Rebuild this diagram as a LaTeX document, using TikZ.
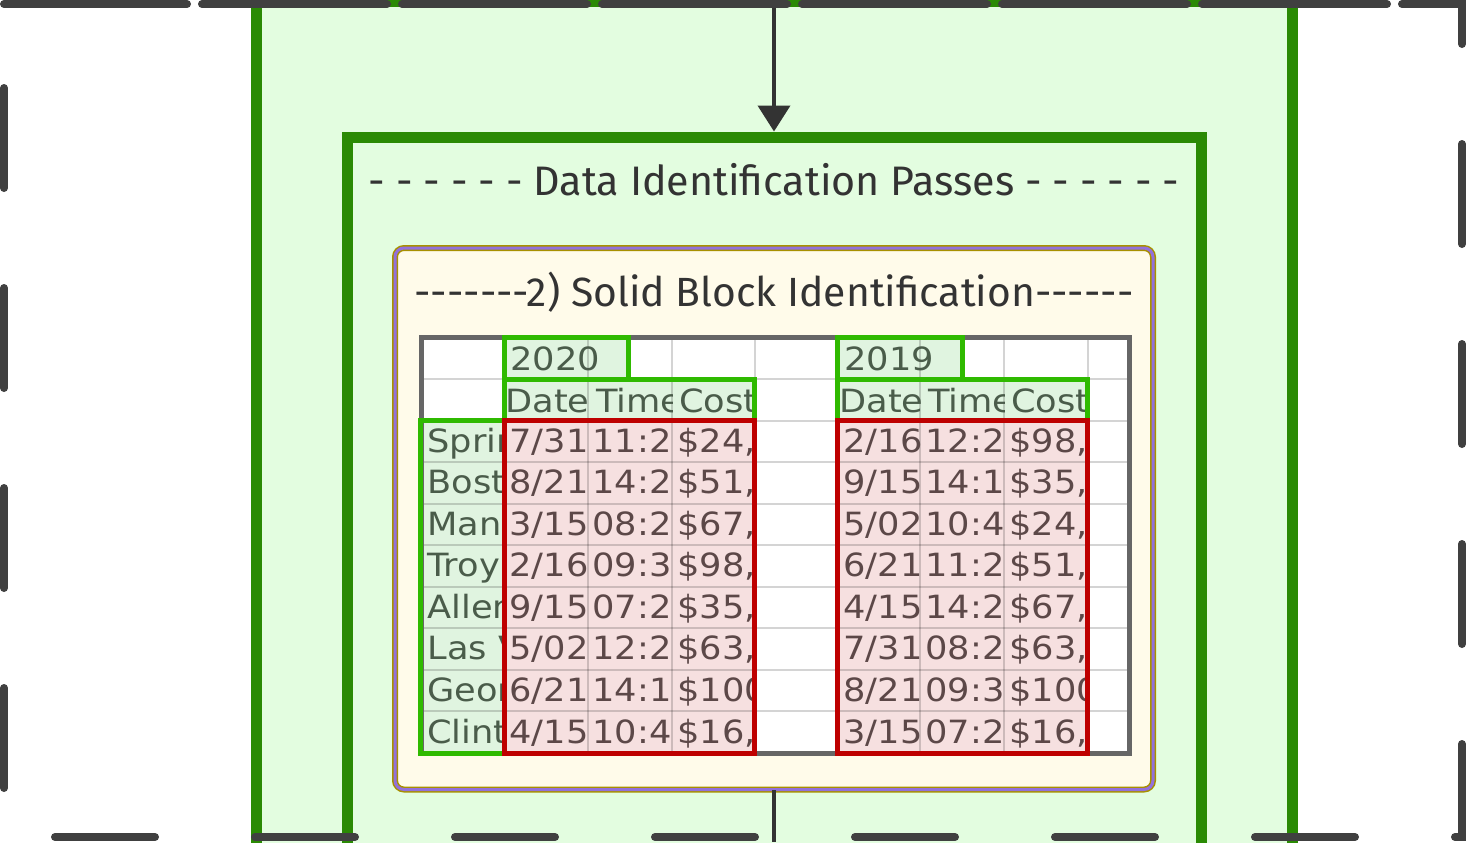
\documentclass[tikz,border=0pt]{standalone}
\usepackage{fontspec}
\setmainfont{DejaVu Sans}
\newfontfamily\labelfont{Fira Sans}
\newfontfamily\sheetfont[FakeStretch=1.1]{DejaVu Sans}
\usetikzlibrary{positioning,arrows.meta}

\definecolor{edgegray}{HTML}{404040}
\definecolor{linkgray}{HTML}{333333}
\definecolor{clusterfill}{HTML}{E3FDE0}
\definecolor{clusterline}{HTML}{2A8A04}
\definecolor{boxfill}{HTML}{FFFBEA}
\definecolor{boxgold}{HTML}{A89000}
\definecolor{boxpurple}{HTML}{9370DB}
\definecolor{sheetframe}{HTML}{666666}
\definecolor{keyline}{HTML}{2FBA00}
\definecolor{keyfill}{HTML}{E0F4E0}
\definecolor{keytext}{HTML}{4A5C4A}
\definecolor{blockline}{HTML}{BE0000}
\definecolor{blockfill}{HTML}{F6E0E0}
\definecolor{blocktext}{HTML}{5C4848}

% one clipped spreadsheet cell: [pad] name, left, right, row, colour, text
\newcommand\sheetcell[7][6]{%
	\begin{scope}
		\clip ({#3},{337.5+41.55*(#5)}) rectangle ({#4},{337.5+41.55*(#5+1)});
		\node[celltext,text=#6] (#2) at ({#3+#1},{337.5+41.55*(#5+1)-8.5-1.5*(#5>1)}) {#7};
	\end{scope}}

\begin{document}
\begin{tikzpicture}[x=0.5pt,y=-0.5pt,
				cluster/.style={draw=clusterline,fill=clusterfill,line width=5.5pt,inner sep=0pt},
				outline/.style={draw=edgegray,line width=4pt,line cap=round,dash pattern=on 50pt off 50pt},
				link/.style={draw=linkgray,line width=2pt},
				title/.style={text=linkgray,font=\labelfont\fontsize{20.6}{24}\selectfont,inner sep=0pt,anchor=base},
				solidbox/.style={draw=boxgold,double=boxpurple,double distance=1.5pt,line width=0.75pt,
					fill=boxfill,rounded corners=4.5pt,inner sep=0pt},
				gridline/.style={draw=black,opacity=0.17,line width=1pt},
				keybox/.style={draw=keyline,line width=2.5pt},
				blockbox/.style={draw=blockline,line width=2.5pt},
				celltext/.style={font=\sheetfont\fontsize{16}{19}\selectfont,inner sep=0pt,anchor=base west}]
	\useasboundingbox (0,0) rectangle (1467,842);
	\clip (0,0) rectangle (1467,842);
	\fill[white] (0,0) rectangle (1467,842);

	% clusters
	\node[cluster,minimum width=518.25pt,minimum height=500pt] (outer)  at (774.25,501)  {};
	\node[cluster,minimum width=427pt,minimum height=431.5pt]  (passes) at (774,568.5)   {};
	\node[title] (passeslabel) at (774,195) {- - - - - - Data Identification Passes - - - - - -};

	\coordinate (in)  at (774,0);
	\coordinate (out) at (774,842);
	\draw[link,-{Triangle[width=16pt,length=13pt]}] (in) -- (passes.north);

	\node[solidbox,minimum width=379pt,minimum height=270.75pt] (solid) at (774,518.75) {};
	\draw[link] (solid.south) -- (out);
	\node[title,font=\labelfont\fontsize{20.4}{24}\selectfont] (solidlabel) at (774,306)
		{-------2) Solid Block Identification------};

	% spreadsheet
	\fill[white] (421,337.5) rectangle (1129,753);
	\fill[keyfill]   (504.5,337.5) rectangle (628,379)   (504.5,379.5) rectangle (754.5,420.6)
		(420.5,420.6) rectangle (504.5,753)
		(837.5,337.5) rectangle (962.5,379) (837.5,379.5) rectangle (1087.5,420.6);
	\fill[blockfill] (504.5,420.6) rectangle (754.5,753) (837.5,420.6) rectangle (1087.5,753);
	\foreach \x in {503,588,672,755,837,920,1004,1088}
		\draw[gridline] (\x,337.5) -- (\x,753);
	\foreach \r in {1,...,9}
		\draw[gridline] (421,{337.5+41.55*\r}) -- (1129,{337.5+41.55*\r});

	\sheetcell[7]{year20}{503}{628}{0}{keytext}{2020}
	\sheetcell[7]{year19}{837}{962}{0}{keytext}{2019}
	\foreach \h/\p/\l/\r [count=\i] in {Date/2/503/588,Time/8/588/672,Cost/7/672/755}
		\sheetcell[\p]{head20-\i}{\l}{\r}{1}{keytext}{\h};
	\foreach \h/\p/\l/\r [count=\i] in {Date/2/837/920,Time/8/920/1004,Cost/7/1004/1088}
		\sheetcell[\p]{head19-\i}{\l}{\r}{1}{keytext}{\h};

	\foreach \city/\d/\t/\c [count=\r from 2] in {Sprin/{7/31}/{11:2}/{\$24,},Bost/{8/21}/{14:2}/{\$51,},
			Man/{3/15}/{08:2}/{\$67,},Troy/{2/16}/{09:3}/{\$98,},Allen/{9/15}/{07:2}/{\$35,},
			Las V/{5/02}/{12:2}/{\$63,},Geor/{6/21}/{14:1}/{\$100},Clint/{4/15}/{10:4}/{\$16,}}{
		\sheetcell{city-\r}{421}{503}{\r}{keytext}{\city}
		\sheetcell{date20-\r}{503}{588}{\r}{blocktext}{\d}
		\sheetcell[4]{time20-\r}{588}{672}{\r}{blocktext}{\t}
		\sheetcell[5]{cost20-\r}{672}{755}{\r}{blocktext}{\c}
	}
	\foreach \d/\t/\c [count=\r from 2] in {{2/16}/{12:2}/{\$98,},{9/15}/{14:1}/{\$35,},
			{5/02}/{10:4}/{\$24,},{6/21}/{11:2}/{\$51,},{4/15}/{14:2}/{\$67,},
			{7/31}/{08:2}/{\$63,},{8/21}/{09:3}/{\$100},{3/15}/{07:2}/{\$16,}}{
		\sheetcell{date19-\r}{837}{920}{\r}{blocktext}{\d}
		\sheetcell[5]{time19-\r}{920}{1004}{\r}{blocktext}{\t}
		\sheetcell[5]{cost19-\r}{1004}{1088}{\r}{blocktext}{\c}
	}

	\draw[sheetframe,line width=2.5pt] (421,337.5) rectangle (1129,753);
	\draw[keybox] (504.5,337.5) rectangle (628,379) (504.5,379.5) rectangle (754.5,420.6)
		(420.5,420.6) rectangle (504.5,753)
		(837.5,337.5) rectangle (962.5,379) (837.5,379.5) rectangle (1087.5,420.6);
	\draw[blockbox] (504.5,420.6) rectangle (754.5,753) (837.5,420.6) rectangle (1087.5,753);

	% dashed frame round everything
	\draw[outline,dash phase=1pt] (4,4) -- (1462,4) -- (1462,837) -- (4,837) -- cycle;
	\draw[outline,dash phase=58.5pt] (4,4) -- (1462,4);
\end{tikzpicture}
\end{document}
